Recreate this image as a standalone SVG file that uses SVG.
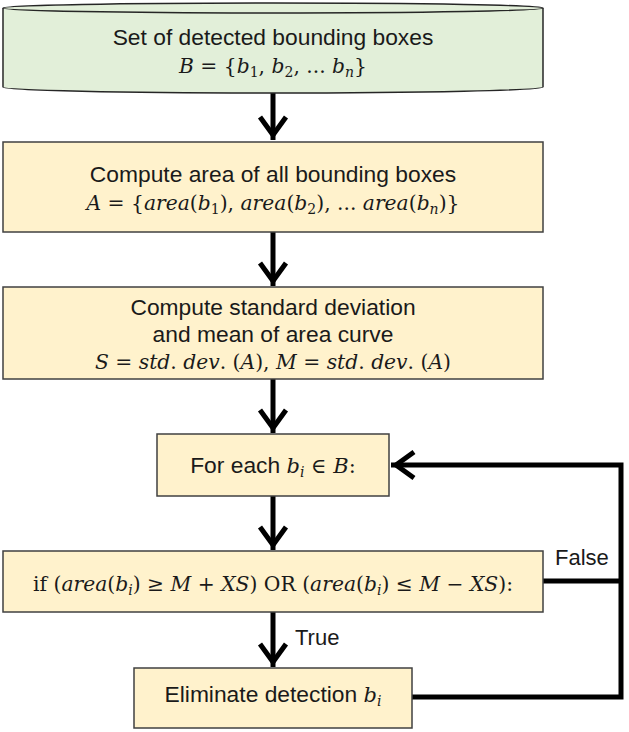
<svg xmlns="http://www.w3.org/2000/svg" width="629" height="732" viewBox="0 0 629 732">
<defs>
<style>
.box{fill:#fff2cc;stroke:#404040;stroke-width:1.5}
.cyl{fill:#e2efd9;stroke:#262626;stroke-width:1.5}
.t{font-family:"Liberation Sans",Arial,sans-serif;font-size:22.8px;fill:#1a1a1a;text-anchor:middle}
.lbl{font-family:"Liberation Sans",Arial,sans-serif;font-size:22px;fill:#1a1a1a}
.m{font-family:"DejaVu Serif","Liberation Serif",serif;font-size:20.3px;fill:#1a1a1a;text-anchor:middle}
.im{font-family:"DejaVu Serif","Liberation Serif",serif;font-size:21px}
.i{font-style:italic}
.s{font-size:14px}
.con{fill:none;stroke:#000;stroke-width:5;stroke-linejoin:miter}
</style>
<marker id="ah" markerUnits="userSpaceOnUse" viewBox="-30 -20 40 40" markerWidth="40" markerHeight="40" refX="0" refY="0" orient="auto">
<path d="M-23,-13 L-5,0 L-23,13" fill="none" stroke="#000" stroke-width="5" stroke-linejoin="miter"/>
</marker>
</defs>
<rect width="629" height="732" fill="#fff"/>
<g id="connectors">
<path class="con" d="M273,92 V140" marker-end="url(#ah)"/>
<path class="con" d="M273,232 V286" marker-end="url(#ah)"/>
<path class="con" d="M273,379 V433" marker-end="url(#ah)"/>
<path class="con" d="M273,496 V550" marker-end="url(#ah)"/>
<path class="con" d="M273,612 V667" marker-end="url(#ah)"/>
<path class="con" d="M412,697 H621 V465 H391" marker-end="url(#ah)"/>
<path class="con" d="M543,581 H621"/>
<text class="lbl" x="295" y="645">True</text>
<text class="lbl" x="555" y="565">False</text>
</g>
<g id="n1">
<path class="cyl" d="M3,8 A270,5 0 0,1 543,8 L543,87 A270,6 0 0,1 3,87 Z"/>
<path d="M3,8 A270,5 0 0,0 543,8" fill="none" stroke="#262626" stroke-width="1.5"/>
<text class="t" x="273" y="45">Set of detected bounding boxes</text>
<text class="m" x="273" y="73"><tspan class="i">B</tspan> = {<tspan class="i">b</tspan><tspan class="s" dy="4">1</tspan><tspan dy="-4">, </tspan><tspan class="i">b</tspan><tspan class="s" dy="4">2</tspan><tspan dy="-4">, ... </tspan><tspan class="i">b</tspan><tspan class="s i" dy="4">n</tspan><tspan dy="-4">}</tspan></text>
</g>
<g id="n2">
<rect class="box" x="3" y="142" width="540" height="90"/>
<text class="t" x="273" y="182">Compute area of all bounding boxes</text>
<text class="m" x="273" y="210"><tspan class="i">A</tspan> = {<tspan class="i">area</tspan>(<tspan class="i">b</tspan><tspan class="s" dy="4">1</tspan><tspan dy="-4">), </tspan><tspan class="i">area</tspan>(<tspan class="i">b</tspan><tspan class="s" dy="4">2</tspan><tspan dy="-4">), ... </tspan><tspan class="i">area</tspan>(<tspan class="i">b</tspan><tspan class="s i" dy="4">n</tspan><tspan dy="-4">)}</tspan></text>
</g>
<g id="n3">
<rect class="box" x="3" y="287" width="540" height="92"/>
<text class="t" x="273" y="315">Compute standard deviation</text>
<text class="t" x="273" y="342">and mean of area curve</text>
<text class="m" x="273" y="369"><tspan class="i">S</tspan> = <tspan class="i">std</tspan>. <tspan class="i">dev</tspan>. (<tspan class="i">A</tspan>), <tspan class="i">M</tspan> = <tspan class="i">std</tspan>. <tspan class="i">dev</tspan>. (<tspan class="i">A</tspan>)</text>
</g>
<g id="n4">
<rect class="box" x="157" y="434" width="232" height="62"/>
<text class="t" x="273" y="473"><tspan>For each </tspan><tspan class="im i">b</tspan><tspan class="im i s" dy="4">i</tspan><tspan class="im" dy="-4"> ∈ </tspan><tspan class="im i">B</tspan><tspan class="im">:</tspan></text>
</g>
<g id="n5">
<rect class="box" x="3" y="551" width="540" height="61"/>
<text class="m" x="273" y="591"><tspan>if (</tspan><tspan class="i">area</tspan>(<tspan class="i">b</tspan><tspan class="s i" dy="4">i</tspan><tspan dy="-4">) ≥ </tspan><tspan class="i">M</tspan> + <tspan class="i">XS</tspan>) OR (<tspan class="i">area</tspan>(<tspan class="i">b</tspan><tspan class="s i" dy="4">i</tspan><tspan dy="-4">) ≤ </tspan><tspan class="i">M</tspan> − <tspan class="i">XS</tspan>):</text>
</g>
<g id="n6">
<rect class="box" x="134" y="668" width="278" height="60"/>
<text class="t" x="273" y="702"><tspan>Eliminate detection </tspan><tspan class="im i">b</tspan><tspan class="im i s" dy="4">i</tspan></text>
</g>
</svg>
